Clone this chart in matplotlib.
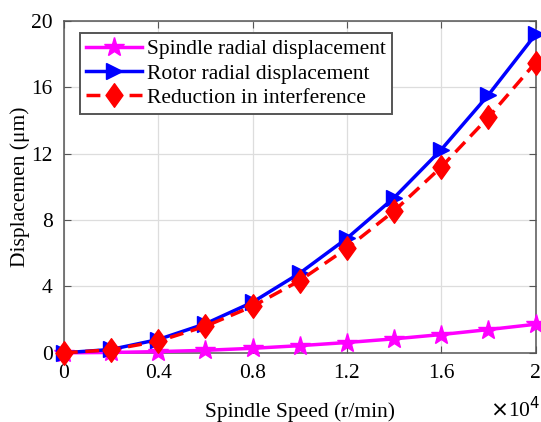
import numpy as np
import matplotlib
matplotlib.use("Agg")
from matplotlib import pyplot as plt
from matplotlib.path import Path

# spindle speed in units of 1e4 r/min
velocidad = [0, 0.2, 0.4, 0.6, 0.8, 1.0, 1.2, 1.4, 1.6, 1.8, 2.0]
husillo = [0, 0.02, 0.07, 0.15, 0.27, 0.43, 0.62, 0.84, 1.1, 1.4, 1.72]
rotor = [0, 0.2, 0.8, 1.75, 3.05, 4.8, 6.9, 9.35, 12.25, 15.55, 19.2]
reduccion = [0, 0.18, 0.7, 1.6, 2.8, 4.35, 6.3, 8.55, 11.2, 14.2, 17.5]

xticks = [0, 0.4, 0.8, 1.2, 1.6, 2.0]
xlabels = ["0", "0.4", "0.8", "1.2", "1.6", "2"]
yticks = [0, 4, 8, 12, 16, 20]

plt.rcParams['font.family'] = ['Liberation Serif', 'DejaVu Serif']
plt.rcParams['font.size'] = 15.5

# diamond a bit taller than wide, like matlab
rombo = Path([(0, 1), (0.72, 0), (0, -1), (-0.72, 0), (0, 1)],
             [Path.MOVETO, Path.LINETO, Path.LINETO, Path.LINETO, Path.CLOSEPOLY])

fig = plt.figure(figsize=(5.41, 4.22), dpi=100)
ax = fig.add_axes([0.118, 0.164, 0.872, 0.786])

ax.plot(velocidad, husillo, color='magenta', linewidth=2.5, marker='*',
        markersize=15, label='Spindle radial displacement', clip_on=False, zorder=3)
ax.plot(velocidad, rotor, color='blue', linewidth=2.5, marker='>',
        markersize=11, label='Rotor radial displacement', clip_on=False, zorder=3)
ax.plot(velocidad, reduccion, color='red', linewidth=2.5, linestyle='--',
        dashes=(4, 2.2), marker=rombo, markersize=17,
        label='Reduction in interference', clip_on=False, zorder=4)

ax.set_xlim(0, 2)
ax.set_ylim(0, 20)
ax.set_xticks(xticks)
ax.set_xticklabels(xlabels)
ax.set_yticks(yticks)
ax.grid(True, color='#dddddd', linewidth=0.9)
ax.set_axisbelow(True)
ax.tick_params(direction='in', top=True, right=True, length=5,
               color='#555555', pad=8)
for s in ax.spines.values():
    s.set_color('#555555')
    s.set_linewidth(1.1)

ax.set_xlabel('Spindle Speed (r/min)', labelpad=14)
ax.set_ylabel('Displacemen (μm)', labelpad=1)
fig.text(0.998, 0.0, r'$\times$10$^4$', ha='right', va='bottom')

leg = ax.legend(loc='upper left', bbox_to_anchor=(0.034, 0.965), fancybox=False,
                edgecolor='#555555', framealpha=1, handlelength=2.6,
                borderpad=0.3, labelspacing=0.2, handletextpad=0.2,
                borderaxespad=0)
leg.get_frame().set_linewidth(1.4)

plt.savefig('out.png', dpi=100)
